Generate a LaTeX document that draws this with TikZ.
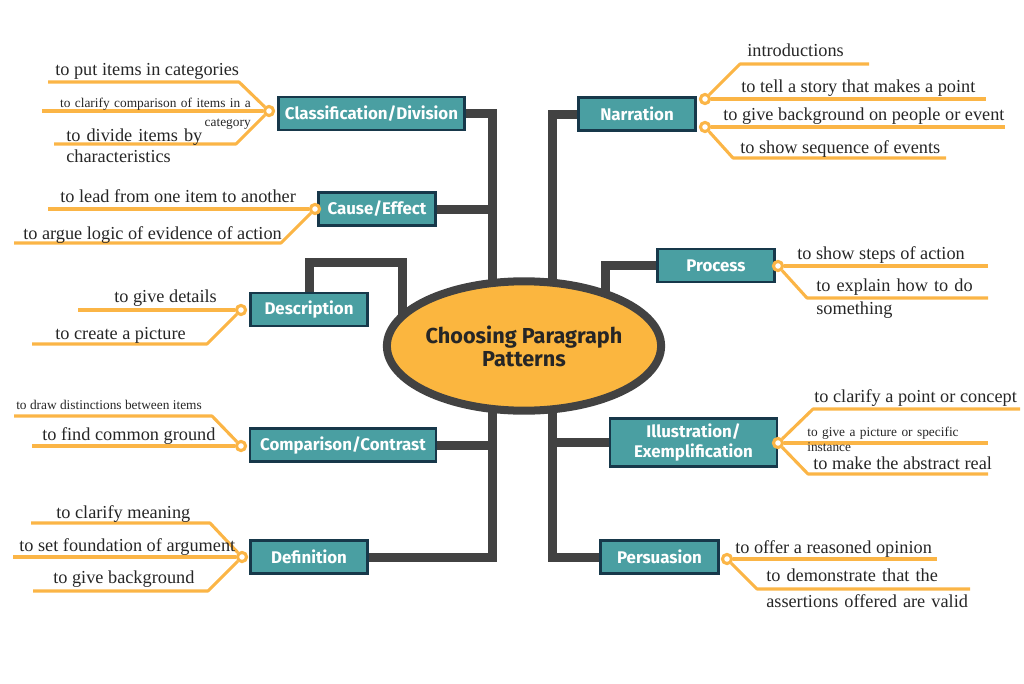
\documentclass[tikz,border=0pt]{standalone}
\usepackage{fontspec}
\setmainfont{Liberation Serif}
\newfontfamily\boxfont{Fira Sans}
\usetikzlibrary{shapes.geometric}
\definecolor{boxteal}{HTML}{4A9FA2}
\definecolor{boxedge}{HTML}{17384A}
\definecolor{leafline}{HTML}{FBB546}
\definecolor{trunkgray}{HTML}{424242}
\definecolor{coreorange}{HTML}{FBB63F}
\definecolor{inkgray}{HTML}{262626}

\begin{document}
\begin{tikzpicture}[x=0.025cm,y=-0.025cm,
  box/.style={draw=boxedge,fill=boxteal,line width=1.8pt,minimum height=23.5pt,
    text=white,align=center,font=\boxfont\bfseries\fontsize{12}{14}\selectfont},
  core/.style={ellipse,draw=trunkgray,fill=coreorange,line width=5.7pt,
    minimum width=195pt,minimum height=92pt,inner xsep=-5pt,align=center,text=inkgray,
    font=\boxfont\bfseries\fontsize{15.4}{16.5}\selectfont},
  trunk/.style={draw=trunkgray,line width=6.4pt},
  leaf/.style={draw=leafline,line width=2.2pt,line join=round},
  hub/.style={circle,draw=leafline,fill=white,line width=2.2pt,minimum size=6.5pt,inner sep=0pt},
  txt/.style={inner sep=0pt,anchor=base west,align=left,text=inkgray,
    font=\fontsize{13}{17}\selectfont},
  small/.style={txt,font=\fontsize{9.5}{12.5}\selectfont}]
  \useasboundingbox (0,0) rectangle (1024,683);

  \node[box,minimum width=132.5pt] (cls) at (371.5,113.5) {Classification/Division};
  \node[box,minimum width=83.5pt] (cau) at (377,209) {Cause/Effect};
  \node[box,minimum width=83.5pt] (des) at (309,309.5) {Description};
  \node[box,minimum width=132pt] (cmp) at (343,445) {Comparison/Contrast};
  \node[box,minimum width=83.5pt] (def) at (309,557) {Definition};
  \node[box,minimum width=83.5pt] (nar) at (637,114) {Narration};
  \node[box,minimum width=83.5pt] (pro) at (716,265.5) {Process};
  \node[box,minimum width=118.5pt,minimum height=34.5pt] (ill) at (693.5,442.5) {Illustration/\\Exemplification};
  \node[box,minimum width=84pt] (per) at (659.5,557) {Persuasion};

  \coordinate (tl) at (492,346);
  \coordinate (tr) at (552,346);
  \coordinate (tp) at (605,346);
  \coordinate (td) at (402,346);
  \coordinate (dk) at (402,262);
  \draw[trunk] (cls.east) -| (tl);
  \draw[trunk] (cau.east) -- (cau.east -| tl);
  \draw[trunk] (cmp.east) -- (cmp.east -| tl);
  \draw[trunk] (def.east) -| (tl);
  \draw[trunk] (nar.west) -| (tr);
  \draw[trunk] (ill.west) -- (ill.west -| tr);
  \draw[trunk] (per.west) -| (tr);
  \draw[trunk] (pro.west) -| (tp);
  \draw[trunk] (des.north) |- (dk) -- (td);

  \node[core] (main) at (524,346) {Choosing Paragraph\\Patterns};

  \node[hub] (hcls) at (269,111) {};
  \node[hub] (hcau) at (315,209) {};
  \node[hub] (hdes) at (241,310) {};
  \node[hub] (hcmp) at (241,446) {};
  \node[hub] (hdef) at (242,557) {};
  \node[hub] (hnara) at (705,99) {};
  \node[hub] (hnarb) at (705,127) {};
  \node[hub] (hpro) at (778,266) {};
  \node[hub] (hill) at (778,443) {};
  \node[hub] (hper) at (727,559) {};

  \foreach \h/\bx/\by/\ex [count=\i] in {hcls/239/82/48, hcls/250/111/42, hcls/236/144/54,
    hcau/295/209/48, hcau/281/243/14, hdes/220/310/78, hdes/207/344/32,
    hcmp/212/416/14, hcmp/220/446/32, hdef/210/523/31, hdef/220/557/13, hdef/208/591/33,
    hnara/740/64/869, hnara/725/99/986, hnarb/725/127/1005, hnarb/733/158/946,
    hpro/800/266/988, hpro/807/298/988, hill/813/409/1020, hill/800/443/988,
    hill/808/474/988, hper/745/559/937, hper/757/589/970} {
    \draw[leaf] (\h) -- (\bx,\by) -- (\ex,\by) coordinate (leaf\i);
  }

  \node[txt] (tcls1) at (55,75) {to put items in categories};
  \node[small,anchor=base east,text width=6cm,align=right,font=\fontsize{9.5}{14}\selectfont] (tcls2) at (251,107) {to clarify comparison of items in a\\category};
  \node[txt,text width=4cm,font=\fontsize{13}{15.5}\selectfont] (tcls3) at (66,141) {to divide items by\\characteristics};
  \node[txt] (tcau1) at (60,202) {to lead from one item to another};
  \node[txt] (tcau2) at (23,239) {to argue logic of evidence of action};
  \node[txt] (tdes1) at (114,302) {to give details};
  \node[txt] (tdes2) at (55,339) {to create a picture};
  \node[small] (tcmp1) at (16,409) {to draw distinctions between items};
  \node[txt] (tcmp2) at (42,440) {to find common ground};
  \node[txt] (tdef1) at (56,518) {to clarify meaning};
  \node[txt] (tdef2) at (19,551) {to set foundation of argument};
  \node[txt] (tdef3) at (53,583) {to give background};

  \node[txt] (tnar1) at (747,57) {introductions};
  \node[txt] (tnar2) at (741,93) {to tell a story that makes a point};
  \node[txt] (tnar3) at (723,120) {to give background on people or event};
  \node[txt] (tnar4) at (740,153) {to show sequence of events};
  \node[txt] (tpro1) at (797,259) {to show steps of action};
  \node[txt,text width=4.5cm] (tpro2) at (816,291) {to explain how to do\\something};
  \node[txt] (till1) at (814,402) {to clarify a point or concept};
  \node[small,text width=4.5cm,font=\fontsize{9.5}{11}\selectfont] (till2) at (807,436) {to give a picture or specific\\instance};
  \node[txt] (till3) at (813,469) {to make the abstract real};
  \node[txt] (tper1) at (735,553) {to offer a reasoned opinion};
  \node[txt,text width=6cm,font=\fontsize{13}{18.5}\selectfont] (tper2) at (766,581) {to demonstrate that the\\assertions offered are valid};
\end{tikzpicture}
\end{document}
